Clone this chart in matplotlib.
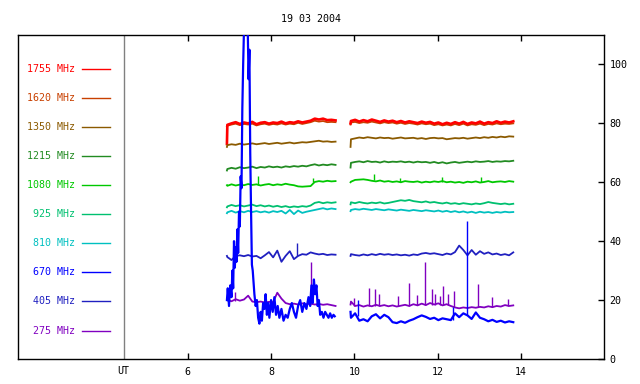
import numpy as np
import matplotlib
matplotlib.use("Agg")
from matplotlib import pyplot as plt

# time grids (hours UT), first sample of each block is the warm-up reading
t1 = np.concatenate([[6.94], np.round(np.arange(6.95, 9.56, 0.1), 2)])
t2 = np.concatenate([[9.91], np.round(np.arange(9.92, 13.83, 0.1), 2)])

freqs = ["1755 MHz", "1620 MHz", "1350 MHz", "1215 MHz", "1080 MHz",
         "925 MHz", "810 MHz", "670 MHz", "405 MHz", "275 MHz"]
colores = ["#ff0000", "#c84000", "#8b5a00", "#228b22", "#00c800",
           "#00c070", "#00c0c0", "#0000ff", "#2020c0", "#8000c0"]
leyenda_y = [98.6, 88.6, 78.7, 68.9, 59.0, 49.2, 39.3, 29.5, 19.6, 9.6]

f1755_a = [73.0, 79.5, 80.0, 80.4, 79.8, 80.3, 80.0, 80.5, 79.7, 80.2, 80.4, 79.9, 80.3, 80.1,
           80.6, 80.0, 80.4, 80.2, 80.7, 80.3, 80.6, 80.9, 81.6, 81.3, 81.6, 81.1, 81.2, 81.0]
f1755_b = [80.0, 80.8, 81.2, 80.6, 81.1, 80.7, 81.3, 80.9, 80.5, 81.0, 80.6, 80.9, 80.4, 80.8,
           80.3, 80.7, 80.4, 80.1, 80.6, 80.2, 80.5, 79.9, 80.3, 79.7, 80.2, 79.8, 80.4, 79.9,
           80.5, 79.8, 80.3, 80.0, 80.6, 79.9, 80.4, 80.1, 80.7, 80.2, 80.6, 80.3, 80.7]
f1620_a = [79.0, 79.2, 79.6, 79.9, 79.4, 79.8, 79.6, 79.9, 79.3, 79.7, 79.9, 79.5, 79.8, 79.6,
           80.0, 79.6, 79.9, 79.7, 80.2, 79.8, 80.1, 80.4, 80.9, 80.6, 80.8, 80.4, 80.5, 80.4]
f1620_b = [79.6, 80.3, 80.5, 80.1, 80.4, 80.2, 80.6, 80.3, 80.0, 80.4, 80.1, 80.3, 79.9, 80.2,
           79.8, 80.1, 79.9, 79.6, 80.0, 79.7, 79.9, 79.4, 79.7, 79.3, 79.6, 79.3, 79.8, 79.4,
           79.9, 79.3, 79.7, 79.5, 79.9, 79.4, 79.8, 79.6, 80.0, 79.7, 79.9, 79.8, 80.0]
f1350_a = [72.0, 72.6, 72.9, 72.7, 73.1, 72.8, 73.0, 73.2, 72.9, 73.1, 73.3, 73.0, 73.2, 73.4,
           73.1, 73.3, 73.5, 73.2, 73.4, 73.6, 73.5, 73.7, 73.9, 74.1, 73.8, 73.9, 73.7, 73.8]
f1350_b = [72.0, 74.6, 74.9, 75.2, 75.0, 75.3, 75.1, 74.9, 75.2, 75.0, 75.1, 74.8, 75.0, 75.2,
           74.9, 75.0, 75.1, 74.8, 75.0, 74.7, 75.0, 75.1, 74.9, 75.0, 74.6, 74.8, 75.0, 74.9,
           75.1, 74.8, 75.0, 75.2, 75.0, 75.3, 75.1, 75.4, 75.2, 75.5, 75.3, 75.6, 75.5]
f1215_a = [64.0, 64.5, 64.9, 64.6, 65.1, 64.8, 65.0, 65.3, 64.8, 65.2, 65.0, 65.4, 65.1, 65.3,
           65.0, 65.4, 65.2, 65.5, 65.3, 65.6, 65.4, 65.8, 66.1, 65.7, 66.0, 65.8, 66.1, 65.9]
f1215_b = [65.0, 66.6, 66.9, 67.1, 66.8, 67.2, 66.9, 67.0, 66.7, 67.1, 66.8, 67.0, 66.9, 67.1,
           66.8, 67.0, 66.7, 67.0, 66.8, 66.9, 66.6, 66.9, 66.5, 66.8, 66.4, 66.7, 66.9, 66.6,
           66.8, 67.0, 66.8, 67.1, 66.9, 67.0, 67.2, 66.9, 67.1, 67.0, 67.2, 67.1, 67.3]
f1080_a = [59.0, 58.8, 59.3, 58.9, 59.2, 59.0, 59.4, 59.1, 59.3, 58.9, 59.2, 59.4, 59.0, 59.3,
           59.1, 59.5, 59.2, 59.0, 58.6, 58.5, 58.6, 58.7, 60.1, 60.4, 60.2, 60.5, 60.3, 60.4]
f1080_b = [60.0, 60.2, 60.8, 60.9, 61.0, 60.8, 60.5, 60.3, 60.6, 60.2, 60.4, 60.1, 60.3, 60.0,
           60.4, 60.2, 60.1, 60.3, 59.9, 60.2, 60.0, 60.3, 60.1, 60.4, 60.0, 60.2, 59.9, 60.1,
           59.8, 60.2, 60.0, 60.3, 59.9, 60.1, 60.4, 60.0, 60.2, 60.3, 60.1, 60.4, 60.2]
f925_a = [51.5, 51.8, 52.3, 51.9, 52.2, 51.8, 52.1, 52.4, 51.9, 52.2, 51.8, 52.1, 51.7, 52.0,
          51.6, 51.9, 51.5, 51.8, 51.6, 51.9, 51.7, 52.1, 53.0, 53.3, 52.9, 53.2, 53.0, 53.2]
f925_b = [52.5, 53.2, 52.9, 53.3, 53.0, 52.8, 53.1, 52.9, 53.2, 52.8, 53.0, 53.3, 53.6, 53.9,
          53.7, 54.0, 53.6, 53.4, 53.2, 53.5, 53.1, 53.3, 53.0, 52.8, 53.1, 52.7, 52.9, 52.6,
          52.9, 52.7, 52.5, 52.8, 52.6, 52.9, 53.3, 53.0, 52.8, 52.6, 52.8, 52.5, 52.7]
f810_a = [49.5, 49.8, 50.3, 49.7, 50.2, 49.8, 50.3, 49.9, 50.2, 49.8, 50.1, 49.7, 50.2, 49.9,
          50.3, 49.4, 50.6, 49.2, 50.4, 49.6, 50.0, 50.3, 50.6, 50.9, 51.2, 50.8, 51.1, 50.9]
f810_b = [50.2, 50.6, 50.9, 50.7, 51.0, 50.8, 50.6, 50.9, 50.7, 50.5, 50.8, 50.6, 50.4, 50.7,
          50.5, 50.3, 50.6, 50.4, 50.2, 50.5, 50.3, 50.1, 50.4, 50.0, 50.3, 49.9, 50.2, 49.8,
          50.1, 49.7, 50.0, 49.6, 50.0, 49.7, 49.9, 49.6, 49.9, 49.7, 50.0, 49.8, 49.9]
# 670 MHz burst: own time samples
t670_a = [6.94, 6.96, 6.99, 7.02, 7.05, 7.07, 7.09, 7.11, 7.13, 7.15, 7.17, 7.19, 7.21, 7.23,
          7.25, 7.27, 7.29, 7.31, 7.33, 7.35, 7.38, 7.41, 7.44, 7.46, 7.48, 7.50, 7.52, 7.54,
          7.56, 7.58, 7.60, 7.63, 7.66, 7.69, 7.72, 7.75, 7.78, 7.81, 7.84, 7.87, 7.90, 7.93,
          7.96, 8.00, 8.04, 8.08, 8.12, 8.16, 8.20, 8.25, 8.30, 8.35, 8.40, 8.45, 8.50, 8.55,
          8.60, 8.65, 8.70, 8.75, 8.80, 8.85, 8.90, 8.94, 8.97, 9.00, 9.03, 9.06, 9.09, 9.12,
          9.15, 9.18, 9.22, 9.26, 9.30, 9.34, 9.38, 9.42, 9.46, 9.50, 9.53]
f670_a = [20, 24, 18, 25, 21, 30, 24, 40, 31, 38, 33, 44, 36, 50,
          45, 62, 58, 85, 100, 112, 115, 115, 112, 95, 105, 70, 50, 32,
          30, 26, 22, 18, 20, 14, 12, 16, 13, 19, 17, 22, 15, 19,
          14, 20, 16, 21, 15, 18, 14, 17, 13, 15, 14, 17, 19, 16,
          14, 18, 20, 16, 19, 17, 21, 18, 25, 19, 27, 22, 25, 18,
          20, 15, 16, 14, 16, 15, 14, 15.5, 14, 15, 14.5]
f670_b = [16.0, 14.0, 15.5, 13.0, 13.5, 12.8, 14.5, 15.2, 13.8, 15.0, 14.2, 12.5, 12.2, 12.8,
          12.3, 13.0, 13.5, 14.2, 14.8, 14.3, 13.6, 14.0, 13.2, 13.8, 13.5, 13.2, 15.5, 14.2,
          15.5, 14.8, 13.6, 15.8, 14.0, 13.5, 12.8, 13.3, 12.6, 13.0, 12.4, 12.8, 12.5]
f405_a = [35.0, 34.6, 33.6, 35.0, 35.2, 34.9, 35.3, 34.8, 35.0, 34.2, 35.2, 36.3, 34.5, 36.8,
          33.0, 35.0, 36.6, 33.9, 35.0, 35.6, 35.4, 36.2, 35.8, 35.5, 35.7, 35.3, 35.5, 35.4]
f405_b = [35.0, 35.6, 35.3, 35.1, 35.5, 35.2, 35.6, 35.3, 35.7, 35.4, 35.6, 35.3, 35.5, 35.2,
          35.4, 35.1, 35.5, 35.3, 35.8, 36.0, 35.7, 35.9, 35.6, 35.3, 35.8, 35.5, 36.3, 38.5,
          37.0, 35.2, 37.0, 35.4, 36.6, 35.7, 36.2, 35.5, 35.8, 35.3, 35.6, 35.2, 36.2]
f275_a = [20.0, 20.0, 19.6, 20.3, 19.8, 20.2, 21.5, 19.5, 19.3, 19.5, 19.2, 19.4, 19.3, 22.5,
          20.5, 19.0, 18.6, 18.8, 18.5, 18.9, 18.6, 18.8, 18.5, 18.7, 18.4, 18.6, 18.3, 18.0]
f275_b = [18.5, 19.5, 18.0, 18.3, 17.8, 18.2, 17.9, 18.4, 18.0, 18.3, 17.9, 18.2, 17.8, 18.1,
          18.4, 18.0, 18.6, 18.2, 18.8, 18.3, 19.0, 18.5, 18.9, 18.2, 18.6, 18.0, 17.5, 17.2,
          17.5, 17.3, 17.6, 17.4, 17.7, 17.5, 17.9, 17.6, 18.0, 17.8, 18.3, 18.0, 18.2]

# sharp single-sample spikes: (time, base, top)
picos_275 = [(7.13, 19.8, 22.8), (8.96, 18.6, 33.0), (10.0, 18.0, 20.7), (10.36, 18.0, 24.0),
             (10.5, 18.0, 23.8), (10.6, 18.0, 22.0), (11.05, 18.0, 21.5), (11.32, 18.0, 25.7),
             (11.5, 18.2, 21.8), (11.71, 18.3, 32.8), (11.86, 18.3, 23.8), (11.95, 18.3, 22.0),
             (12.05, 18.3, 21.5), (12.14, 18.2, 24.9), (12.25, 18.2, 22.2), (12.4, 17.5, 23.0),
             (12.98, 17.5, 25.4), (13.3, 17.7, 21.0), (13.7, 18.0, 20.5)]
picos_670 = [(10.08, 14.5, 20.0), (12.37, 13.3, 17.5), (12.71, 15.0, 47.0)]
picos_405 = [(8.63, 35.0, 39.3)]
picos_1080 = [(7.69, 59.2, 62.0), (9.0, 60.1, 61.4), (10.47, 60.8, 62.7), (11.1, 60.2, 61.5),
              (12.1, 60.1, 61.9), (13.04, 60.1, 61.9)]

ut_x = 4.46

series = [(t1, f1755_a, f1755_b), (t1, f1620_a, f1620_b), (t1, f1350_a, f1350_b),
          (t1, f1215_a, f1215_b), (t1, f1080_a, f1080_b), (t1, f925_a, f925_b),
          (t1, f810_a, f810_b), (t670_a, f670_a, f670_b), (t1, f405_a, f405_b),
          (t1, f275_a, f275_b)]

plt.rcParams['font.family'] = 'DejaVu Sans Mono'
fig = plt.figure(figsize=(6.4, 3.84), dpi=100)
ax = fig.add_axes([18 / 640, 25 / 384, 586 / 640, 324 / 384])

orden_z = [3, 2, 3, 3, 3, 3, 3, 5, 3, 4]
grosor = [1.9, 1.3, 1.3, 1.3, 1.3, 1.3, 1.3, 1.6, 1.3, 1.3]
for i, (ta, a, b) in enumerate(series):
    ax.plot(ta, a, color=colores[i], lw=grosor[i], zorder=orden_z[i])
    ax.plot(t2, b, color=colores[i], lw=grosor[i], zorder=orden_z[i])

for picos, c, z in [(picos_275, colores[9], 4), (picos_670, colores[7], 5),
                    (picos_405, colores[8], 3), (picos_1080, colores[4], 3)]:
    ax.vlines([p[0] for p in picos], [p[1] for p in picos], [p[2] for p in picos],
              color=c, lw=1.0, zorder=z)

# legend panel on the left
for nombre, c, y in zip(freqs, colores, leyenda_y):
    ax.text(3.28, y, nombre, color=c, fontsize=7.2, ha='right', va='center')
    ax.plot([3.45, 4.13], [y, y], color=c, lw=1.0)

ax.axvline(ut_x, color='gray', lw=1.0)
ax.text(ut_x, -2.5, "UT", fontsize=7.2, ha='center', va='top')

ax.set_xlim(1.92, 16.0)
ax.set_ylim(0, 110)
ax.set_xticks([6, 8, 10, 12, 14])
ax.set_yticks([0, 20, 40, 60, 80, 100])
ax.yaxis.tick_right()
ax.tick_params(axis='x', direction='in', top=True, length=4, width=1, labelsize=7.2, pad=6)
ax.tick_params(axis='y', direction='in', left=False, right=True, length=4, width=1,
               labelsize=7.2, pad=4)
for s in ax.spines.values():
    s.set_linewidth(1.0)
ax.set_title("19 03 2004", fontsize=7.2, pad=9)

fig.savefig("out.png", dpi=100)
